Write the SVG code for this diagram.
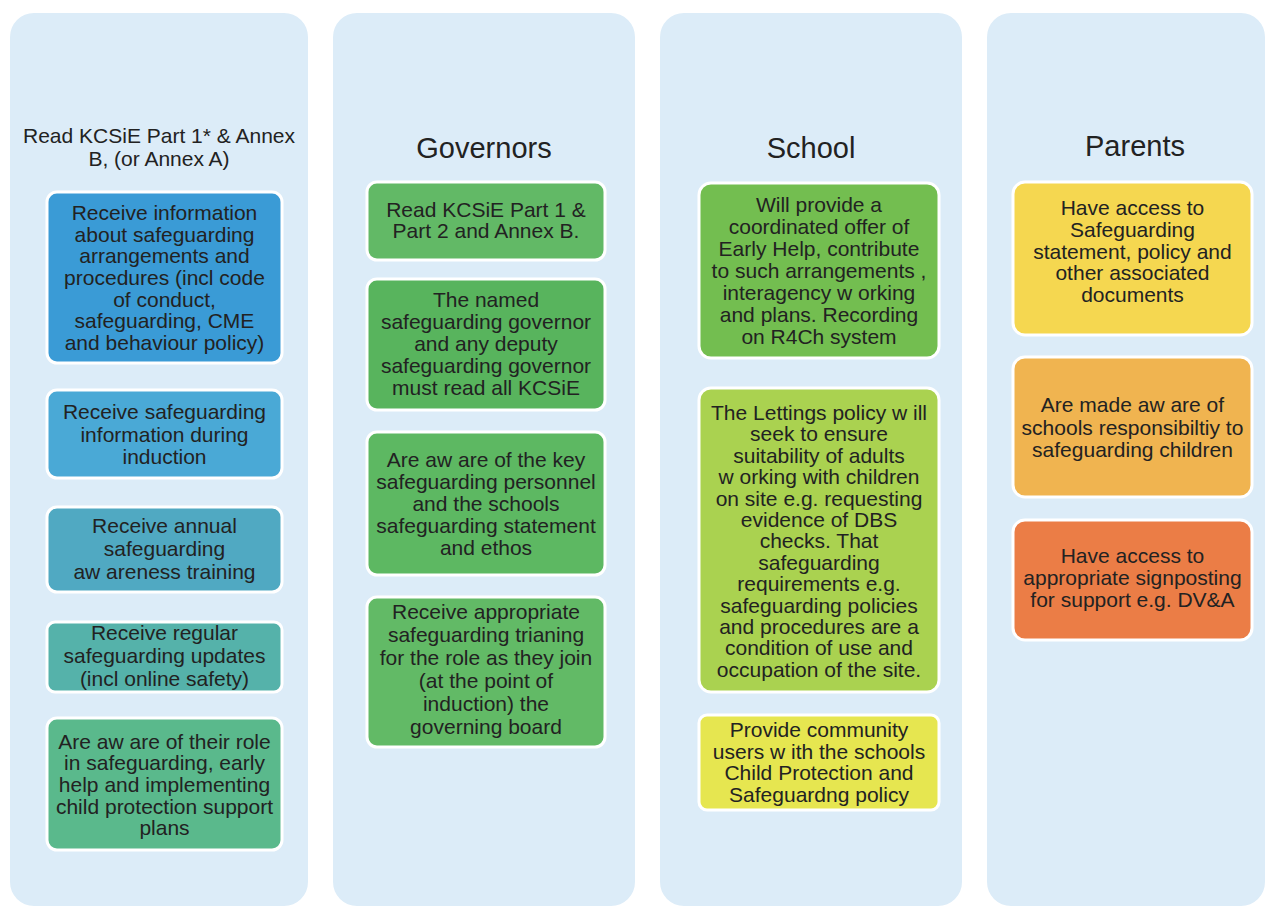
<svg xmlns="http://www.w3.org/2000/svg" width="1274" height="909" viewBox="0 0 1274 909">
<style>
.panel{fill:#dcecf8}
.box{stroke:#ffffff;stroke-width:3}
text{font-family:"Liberation Sans",Arial,sans-serif;fill:#222222;text-anchor:middle}
.t{font-size:21px}
.h{font-size:29px}
.h1{font-size:21px}
</style>
<rect width="1274" height="909" fill="#ffffff"/>
<g id="panel-staff">
<rect class="panel" x="10" y="13" width="298" height="893" rx="24"/>
<text class="h1" x="159" y="143">Read KCSiE  Part 1* &amp; Annex</text>
<text class="h1" x="159" y="166">B, (or Annex A)</text>
</g>
<g id="panel-governors">
<rect class="panel" x="333" y="13" width="302" height="893" rx="24"/>
<text class="h" x="484" y="158">Governors</text>
</g>
<g id="panel-school">
<rect class="panel" x="660" y="13" width="302" height="893" rx="24"/>
<text class="h" x="811" y="158">School</text>
</g>
<g id="panel-parents">
<rect class="panel" x="987" y="13" width="278" height="893" rx="24"/>
<text class="h" x="1135" y="156">Parents</text>
</g>

<g id="staff-1">
<rect class="box" x="47" y="192" width="235" height="171" rx="10" fill="#3a9bd6"/>
<text class="t" x="164.5" y="220">Receive information</text>
<text class="t" x="164.5" y="242">about safeguarding</text>
<text class="t" x="164.5" y="263">arrangements and</text>
<text class="t" x="164.5" y="285">procedures (incl code</text>
<text class="t" x="164.5" y="307">of conduct,</text>
<text class="t" x="164.5" y="328">safeguarding, CME</text>
<text class="t" x="164.5" y="350">and behaviour policy)</text>
</g>
<g id="staff-2">
<rect class="box" x="47" y="390" width="235" height="88" rx="10" fill="#4aa9d6"/>
<text class="t" x="164.5" y="419">Receive safeguarding</text>
<text class="t" x="164.5" y="442">information during</text>
<text class="t" x="164.5" y="464">induction</text>
</g>
<g id="staff-3">
<rect class="box" x="47" y="507" width="235" height="85" rx="10" fill="#50a9c2"/>
<text class="t" x="164.5" y="533">Receive annual</text>
<text class="t" x="164.5" y="556">safeguarding</text>
<text class="t" x="164.5" y="579">aw areness training</text>
</g>
<g id="staff-4">
<rect class="box" x="47" y="622" width="235" height="70" rx="8" fill="#55b2aa"/>
<text class="t" x="164.5" y="640">Receive regular</text>
<text class="t" x="164.5" y="663">safeguarding updates</text>
<text class="t" x="164.5" y="686">(incl online safety)</text>
</g>
<g id="staff-5">
<rect class="box" x="47" y="718" width="235" height="132" rx="10" fill="#5ab98c"/>
<text class="t" x="164.5" y="749">Are aw are of their role</text>
<text class="t" x="164.5" y="770">in safeguarding, early</text>
<text class="t" x="164.5" y="792">help and implementing</text>
<text class="t" x="164.5" y="814">child protection support</text>
<text class="t" x="164.5" y="835">plans</text>
</g>

<g id="gov-1">
<rect class="box" x="367" y="182" width="238" height="78" rx="10" fill="#62b966"/>
<text class="t" x="486" y="217">Read KCSiE  Part 1 &amp;</text>
<text class="t" x="486" y="238">Part 2 and  Annex B.</text>
</g>
<g id="gov-2">
<rect class="box" x="367" y="279" width="238" height="131" rx="10" fill="#58b45d"/>
<text class="t" x="486" y="307">The named</text>
<text class="t" x="486" y="329">safeguarding governor</text>
<text class="t" x="486" y="351">and any deputy</text>
<text class="t" x="486" y="373">safeguarding governor</text>
<text class="t" x="486" y="395">must read all KCSiE</text>
</g>
<g id="gov-3">
<rect class="box" x="367" y="432" width="238" height="143" rx="10" fill="#5db862"/>
<text class="t" x="486" y="467">Are aw are of the key</text>
<text class="t" x="486" y="489">safeguarding personnel</text>
<text class="t" x="486" y="511">and the schools</text>
<text class="t" x="486" y="533">safeguarding statement</text>
<text class="t" x="486" y="555">and ethos</text>
</g>
<g id="gov-4">
<rect class="box" x="367" y="597" width="238" height="150" rx="10" fill="#62ba66"/>
<text class="t" x="486" y="619">Receive appropriate</text>
<text class="t" x="486" y="642">safeguarding trianing</text>
<text class="t" x="486" y="665">for the role as they join</text>
<text class="t" x="486" y="688">(at the point of</text>
<text class="t" x="486" y="711">induction) the</text>
<text class="t" x="486" y="734">governing board</text>
</g>

<g id="school-1">
<rect class="box" x="699" y="183" width="240" height="175" rx="12" fill="#73be50"/>
<text class="t" x="819" y="212">Will provide a</text>
<text class="t" x="819" y="234">coordinated offer of</text>
<text class="t" x="819" y="256">Early Help,  contribute</text>
<text class="t" x="819" y="278">to such arrangements ,</text>
<text class="t" x="819" y="300">interagency w orking</text>
<text class="t" x="819" y="322">and plans.  Recording</text>
<text class="t" x="819" y="344">on R4Ch system</text>
</g>
<g id="school-2">
<rect class="box" x="699" y="388" width="240" height="304" rx="12" fill="#aad250"/>
<text class="t" x="819" y="420">The Lettings policy w ill</text>
<text class="t" x="819" y="441">seek to ensure</text>
<text class="t" x="819" y="463">suitability of adults</text>
<text class="t" x="819" y="484">w orking with children</text>
<text class="t" x="819" y="506">on site e.g. requesting</text>
<text class="t" x="819" y="527">evidence of DBS</text>
<text class="t" x="819" y="548">checks. That</text>
<text class="t" x="819" y="570">safeguarding</text>
<text class="t" x="819" y="591">requirements  e.g.</text>
<text class="t" x="819" y="613">safeguarding policies</text>
<text class="t" x="819" y="634">and procedures are a</text>
<text class="t" x="819" y="655">condition of use and</text>
<text class="t" x="819" y="677">occupation of the site.</text>
</g>
<g id="school-3">
<rect class="box" x="699" y="715" width="240" height="95" rx="8" fill="#e6e650"/>
<text class="t" x="819" y="737">Provide community</text>
<text class="t" x="819" y="759">users w ith the schools</text>
<text class="t" x="819" y="780">Child  Protection and</text>
<text class="t" x="819" y="802">Safeguardng policy</text>
</g>

<g id="parents-1">
<rect class="box" x="1013" y="182" width="239" height="153" rx="12" fill="#f5d750"/>
<text class="t" x="1132.5" y="215">Have access to</text>
<text class="t" x="1132.5" y="237">Safeguarding</text>
<text class="t" x="1132.5" y="259">statement, policy and</text>
<text class="t" x="1132.5" y="280">other associated</text>
<text class="t" x="1132.5" y="302">documents</text>
</g>
<g id="parents-2">
<rect class="box" x="1013" y="357" width="239" height="140" rx="12" fill="#f0b450"/>
<text class="t" x="1132.5" y="412">Are made aw are of</text>
<text class="t" x="1132.5" y="435">schools responsibiltiy to</text>
<text class="t" x="1132.5" y="457">safeguarding children</text>
</g>
<g id="parents-3">
<rect class="box" x="1013" y="520" width="239" height="120" rx="12" fill="#eb7d46"/>
<text class="t" x="1132.5" y="563">Have access to</text>
<text class="t" x="1132.5" y="585">appropriate signposting</text>
<text class="t" x="1132.5" y="607">for support e.g. DV&amp;A</text>
</g>
</svg>
